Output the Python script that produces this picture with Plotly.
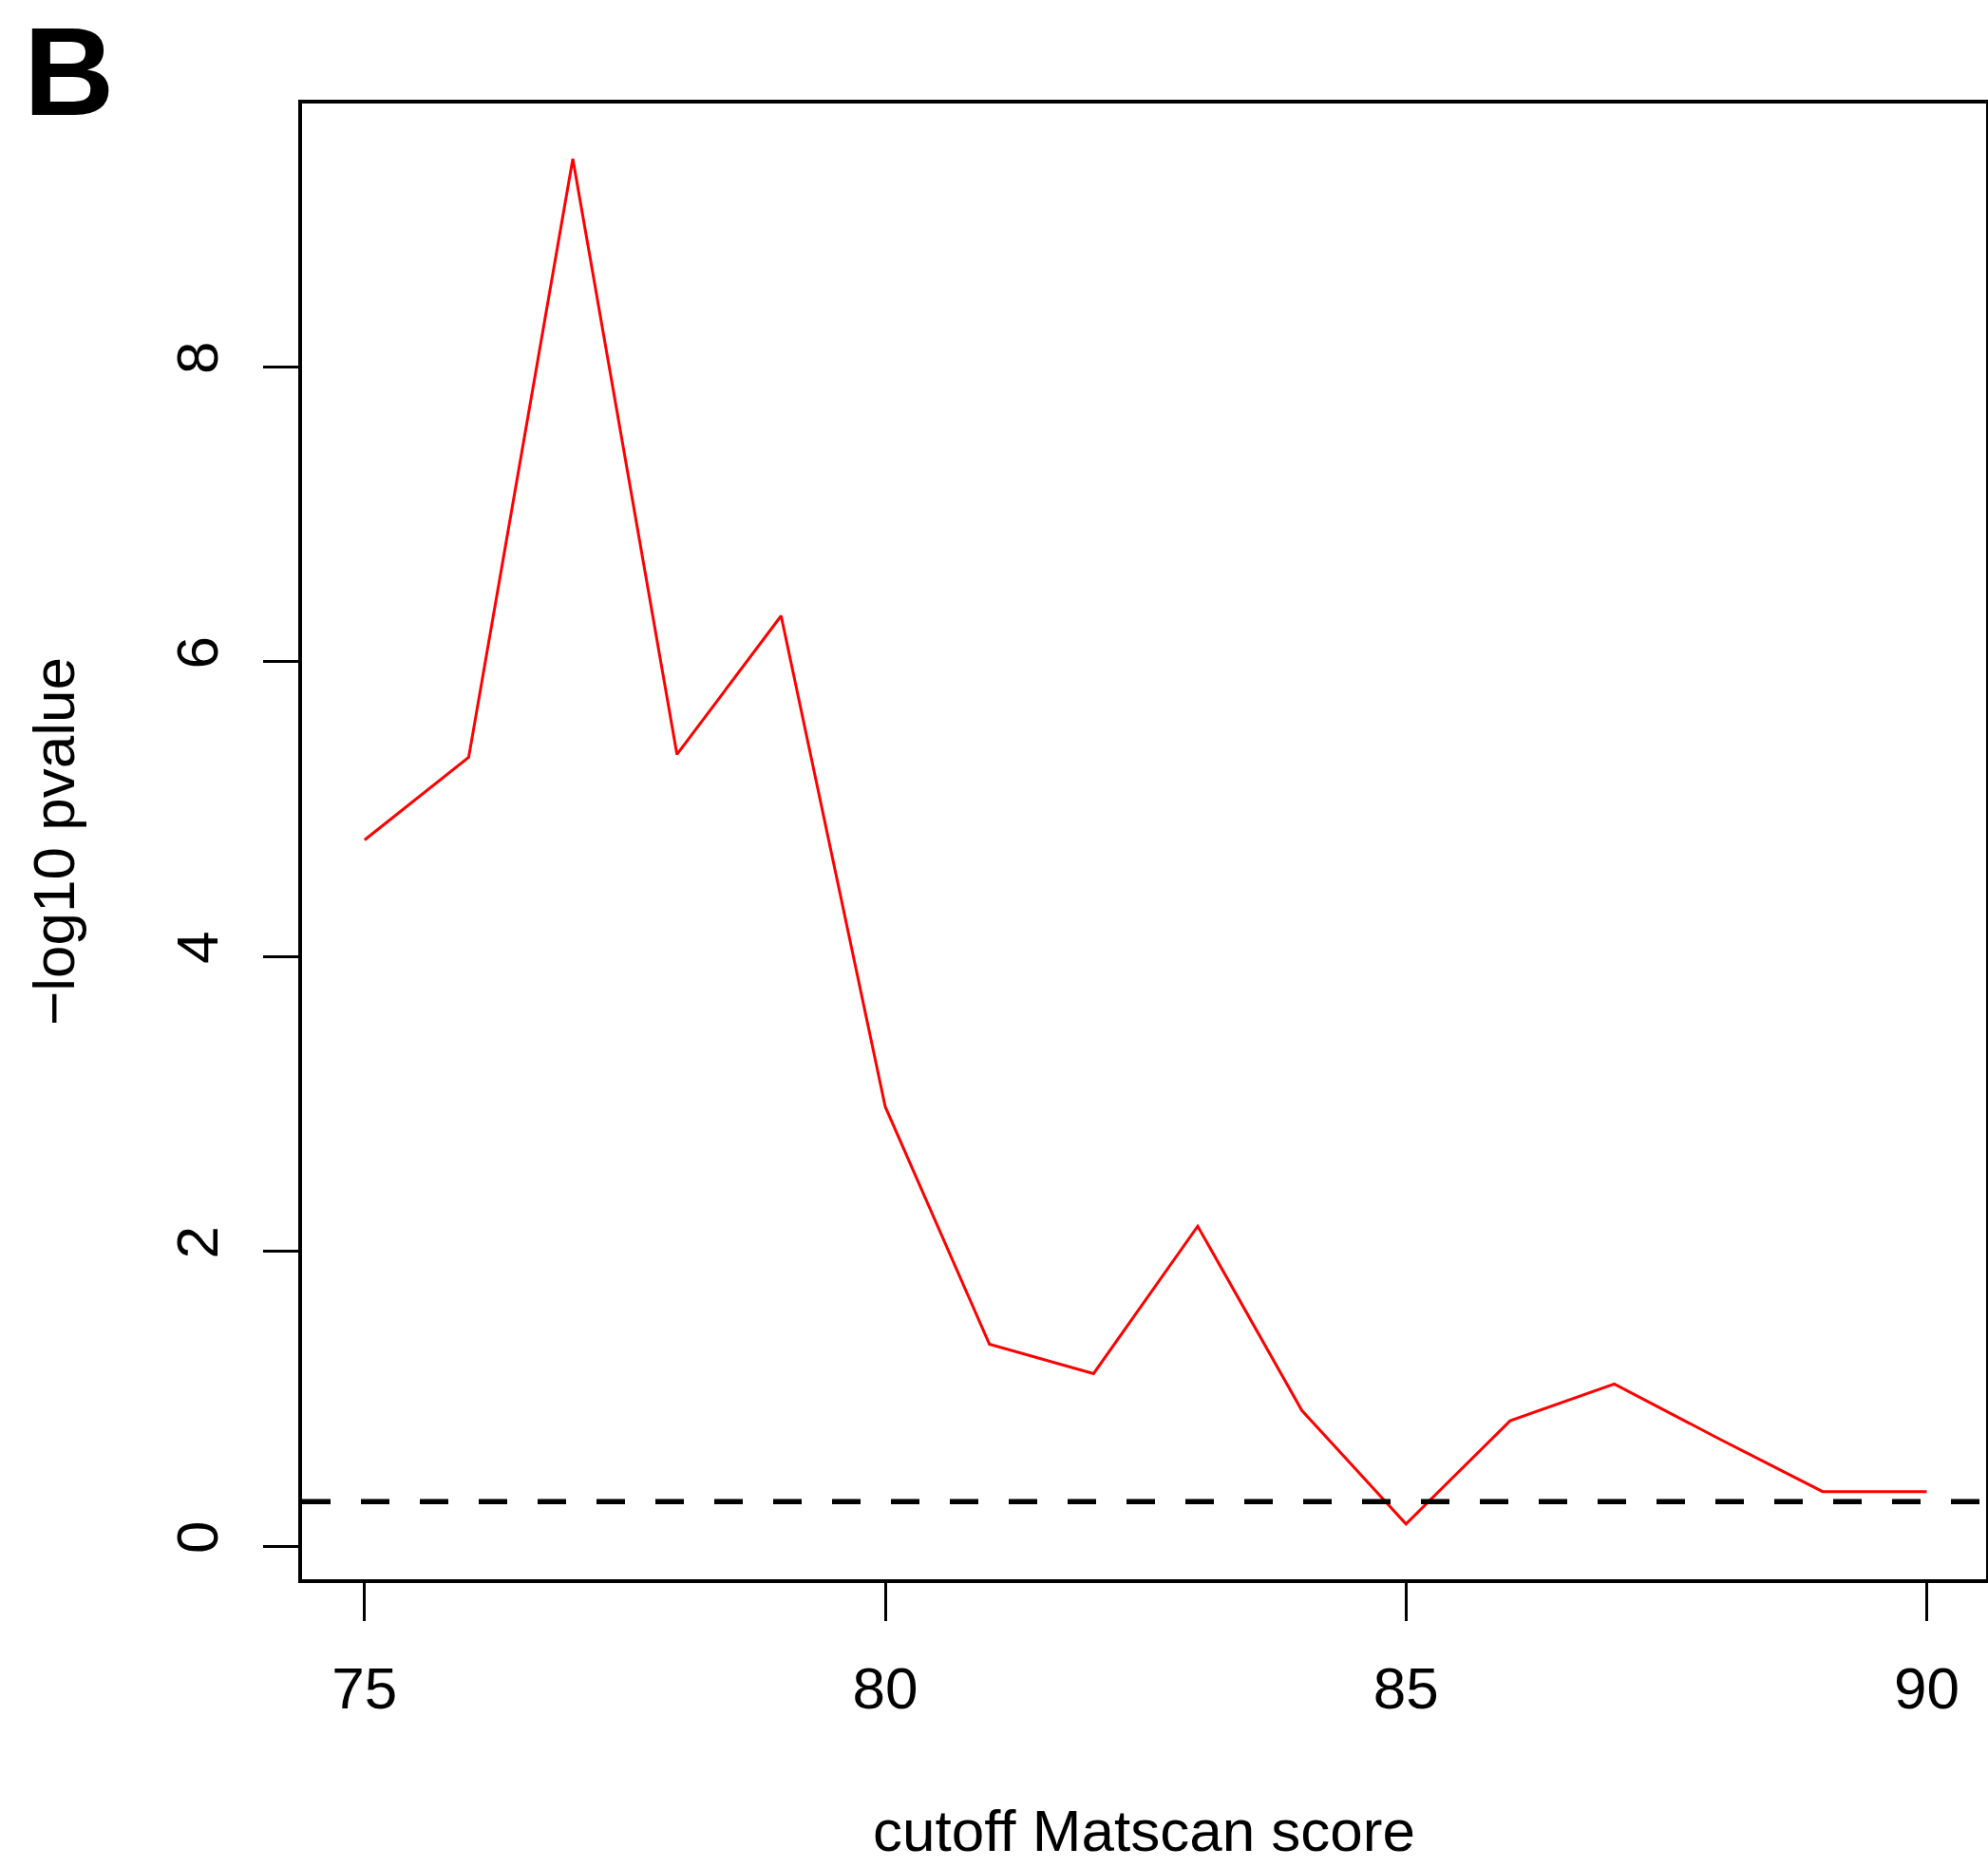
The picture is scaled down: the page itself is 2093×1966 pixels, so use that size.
import plotly.graph_objects as go

# Data
cutoff = [75, 76, 77, 78, 79, 80, 81, 82, 83, 84, 85, 86, 87, 88, 89, 90]
neg_log10_p = [4.79, 5.35, 9.41, 5.37, 6.31, 2.98, 1.37, 1.17, 2.17, 0.92, 0.15, 0.85, 1.10, 0.73, 0.37, 0.37]
threshold = 0.30103  # -log10(0.5)
x_ticks = [75, 80, 85, 90]
y_ticks = [0, 2, 4, 6, 8]

W, H = 2093, 1966
L, R, T, B = 318, 2, 109, 303
FONT = "Liberation Sans, Arial, Helvetica, sans-serif"

fig = go.Figure()
fig.add_trace(go.Scatter(x=cutoff, y=neg_log10_p, mode="lines",
                         line=dict(color="#ff0000", width=3), showlegend=False))
fig.add_shape(type="line", xref="x domain", yref="y", x0=0, x1=1, y0=threshold, y1=threshold,
              line=dict(color="black", width=5.5, dash="30px,32px"))

fig.update_layout(
    width=W, height=H,
    margin=dict(l=L, r=R, t=T, b=B, autoexpand=False),
    paper_bgcolor="white", plot_bgcolor="white",
    font=dict(family=FONT, size=62, color="black"),
    showlegend=False,
)
fig.update_xaxes(range=[74.4, 90.57], tickvals=x_ticks, ticks="outside", ticklen=40, tickwidth=3,
                 tickcolor="black", showline=True, linecolor="black", linewidth=3.5, mirror=True,
                 showgrid=False, zeroline=False, ticklabelstandoff=18,
                 title=dict(text="cutoff Matscan score", standoff=95, font=dict(size=62)))
fig.update_yaxes(range=[-0.225, 9.785], tickvals=y_ticks, ticks="outside", ticklen=37, tickwidth=3,
                 tickcolor="black", showline=True, linecolor="black", linewidth=3.5, mirror=True,
                 showgrid=False, zeroline=False, tickangle=-90, ticklabelstandoff=23,
                 title=dict(text="\u2212log10 pvalue", standoff=76, font=dict(size=62)))

fig.add_annotation(text="<b>B</b>", xref="paper", yref="paper", x=(73 - L) / (W - L - R),
                   y=(H - B) / (H - T - B), xanchor="center", yanchor="top",
                   showarrow=False, font=dict(family=FONT, size=132, color="black"))

fig.write_html("out.html")
